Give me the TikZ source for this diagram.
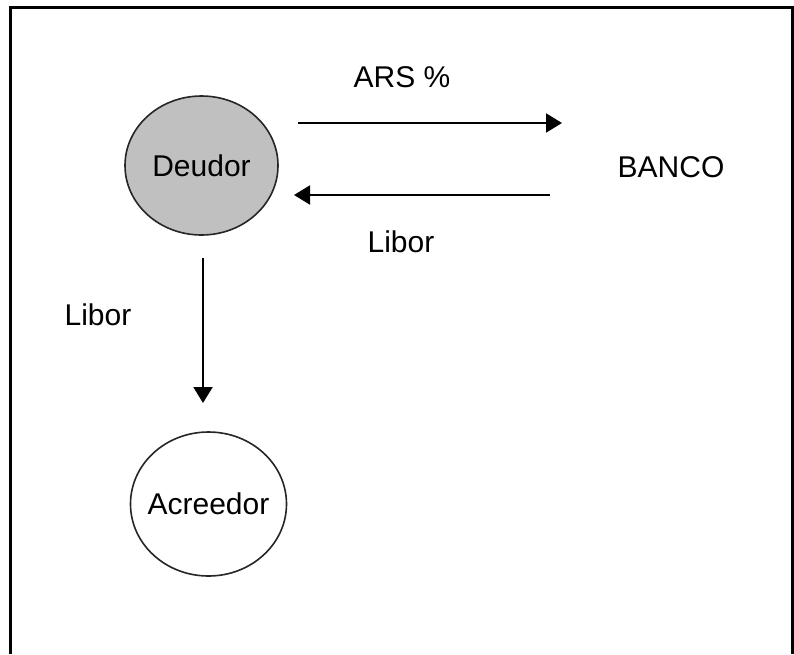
\documentclass[tikz,border=0pt]{standalone}
\usepackage{fontspec}
\setmainfont{Liberation Sans}
\usetikzlibrary{shapes.geometric,arrows.meta}
\begin{document}
\begin{tikzpicture}[x=1pt,y=-1pt,
  lbl/.style={font=\fontsize{30}{36}\selectfont, inner sep=0pt},
  party/.style={ellipse, draw=black!85, line width=1.6pt, inner ysep=0pt, inner xsep=-10pt, font=\fontsize{30}{36}\selectfont},
  flow/.style={line width=2pt, -{Triangle[length=16pt,width=19pt]}}]
\useasboundingbox (0,0) rectangle (794,654);
\fill[white] (0,0) rectangle (794,654);
\draw[line width=3pt] (10.5,654) -- (10.5,7.5) -- (792,7.5) -- (792,654);
\node[party, fill={rgb,255:red,192;green,192;blue,192}, minimum width=153pt, minimum height=139pt] (deudor) at (201.5,165.5) {Deudor};
\node[party, fill=white, minimum width=156pt, minimum height=144pt] (acreedor) at (208.5,504) {Acreedor};
\node[lbl] (banco) at (671,167) {BANCO};
\node[lbl] (ars) at (402,77) {ARS \%};
\node[lbl] (libor1) at (401,242) {Libor};
\node[lbl] (libor2) at (98,315) {Libor};
\coordinate (a1s) at (298,123);
\coordinate (a1e) at (562,123);
\coordinate (a2s) at (550,195);
\coordinate (a2e) at (294,195);
\coordinate (a3s) at (203,258);
\coordinate (a3e) at (203,403);
\draw[flow] (a1s) -- (a1e);
\draw[flow] (a2s) -- (a2e);
\draw[flow] (a3s) -- (a3e);
\end{tikzpicture}
\end{document}
